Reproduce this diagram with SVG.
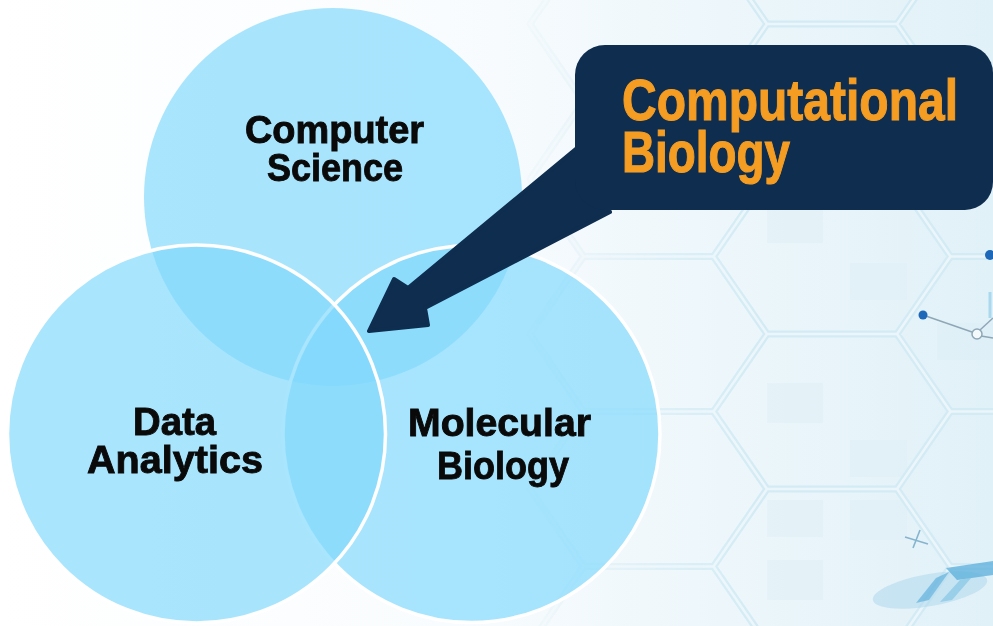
<svg xmlns="http://www.w3.org/2000/svg" width="993" height="626" viewBox="0 0 993 626">
<style>
.lbl{font-family:"Liberation Sans Narrow","Liberation Sans",Arial,sans-serif;font-weight:bold;font-size:39px;fill:#0a0a0a;stroke:#0a0a0a;stroke-width:0.9}
.call{font-family:"Liberation Sans Narrow","Liberation Sans",Arial,sans-serif;font-weight:bold;font-size:58px;fill:#f59d23;stroke:#f59d23;stroke-width:1.1}
.disc{fill:rgb(128,217,252);fill-opacity:0.68}
.ring{stroke:#ffffff;stroke-width:3.5}
.navy{fill:#0e2d4f}
.hexo{fill:none;stroke:#d3ebf4;stroke-width:7;stroke-linejoin:round}
.hexi{fill:none;stroke:#ecf6fa;stroke-width:2.5;stroke-linejoin:round}
.sq{fill:#dcedf5;opacity:0.4}
</style>
<defs>
<linearGradient id="bg" x1="0" y1="0" x2="993" y2="0" gradientUnits="userSpaceOnUse">
<stop offset="0" stop-color="#ffffff"/>
<stop offset="0.45" stop-color="#f9fcfe"/>
<stop offset="1" stop-color="#e1f1f8"/>
</linearGradient>
<linearGradient id="fade" x1="500" y1="0" x2="760" y2="0" gradientUnits="userSpaceOnUse">
<stop offset="0" stop-color="#000"/>
<stop offset="1" stop-color="#fff"/>
</linearGradient>
<mask id="hexmask" maskUnits="userSpaceOnUse" x="0" y="0" width="993" height="626">
<rect x="0" y="0" width="993" height="626" fill="url(#fade)"/>
</mask>
<path id="hexes" d="
M530,24 L583.5,-53.5 L713.5,-53.5 L767,24 L713.5,101.5 L583.5,101.5 Z
M530,179 L583.5,101.5 L713.5,101.5 L767,179 L713.5,256.5 L583.5,256.5 Z
M530,334 L583.5,256.5 L713.5,256.5 L767,334 L713.5,411.5 L583.5,411.5 Z
M530,489 L583.5,411.5 L713.5,411.5 L767,489 L713.5,566.5 L583.5,566.5 Z
M530,644 L583.5,566.5 L713.5,566.5 L767,644 Z
M713.5,101.5 L767,24 L897,24 L950.5,101.5 L897,179 L767,179 Z
M713.5,256.5 L767,179 L897,179 L950.5,256.5 L897,334 L767,334 Z
M713.5,411.5 L767,334 L897,334 L950.5,411.5 L897,489 L767,489 Z
M713.5,566.5 L767,489 L897,489 L950.5,566.5 L897,644 L767,644 Z
M897,24 L950.5,-53.5 L1080.5,-53.5 L1134,24 L1080.5,101.5 L950.5,101.5 Z
M897,179 L950.5,101.5 L1080.5,101.5 L1134,179 L1080.5,256.5 L950.5,256.5 Z
M897,334 L950.5,256.5 L1080.5,256.5 L1134,334 L1080.5,411.5 L950.5,411.5 Z
M897,489 L950.5,411.5 L1080.5,411.5 L1134,489 L1080.5,566.5 L950.5,566.5 Z
M897,644 L950.5,566.5 L1080.5,566.5 L1134,644 Z"/>
</defs>

<rect id="background" x="0" y="0" width="993" height="626" fill="url(#bg)"/>

<g id="pattern" mask="url(#hexmask)">
<rect class="sq" x="767" y="210" width="56" height="33"/>
<rect class="sq" x="850" y="263" width="57" height="37"/>
<rect class="sq" x="767" y="383" width="56" height="40"/>
<rect class="sq" x="850" y="440" width="57" height="37"/>
<rect class="sq" x="767" y="500" width="56" height="37"/>
<rect class="sq" x="850" y="500" width="57" height="40"/>
<rect class="sq" x="767" y="560" width="56" height="40"/>
<rect class="sq" x="937" y="323" width="56" height="37"/>
<use href="#hexes" class="hexo"/>
<use href="#hexes" class="hexi"/>
</g>

<g id="decor">
<line x1="923" y1="315" x2="972" y2="332" stroke="#8ea7b6" stroke-width="1.5"/>
<line x1="981" y1="336" x2="993" y2="338" stroke="#8ea7b6" stroke-width="1.5"/>
<line x1="980" y1="330" x2="993" y2="318" stroke="#8ea7b6" stroke-width="1.5"/>
<line x1="990" y1="292" x2="990" y2="318" stroke="#a9d8ef" stroke-width="3"/>
<circle cx="977" cy="334" r="5" fill="#f4fafc" stroke="#8ea7b6" stroke-width="1.5"/>
<circle cx="923" cy="315" r="4.5" fill="#1d68b8"/>
<circle cx="990" cy="255" r="5" fill="#1d68b8"/>
<line x1="905" y1="537" x2="928" y2="544" stroke="#86b4cf" stroke-width="1.6"/>
<line x1="920" y1="530" x2="913" y2="548" stroke="#86b4cf" stroke-width="1.6"/>
<ellipse cx="930" cy="590" rx="58" ry="16" transform="rotate(-10 930 590)" fill="#a9d5ec" opacity="0.5"/>
<polygon points="946,568 993,561 993,575 957,580" fill="#5aaddc" opacity="0.75"/>
<polygon points="936,578 949,572 929,600 916,603" fill="#5aaddc" opacity="0.65"/>
<polygon points="960,580 972,577 952,600 940,602" fill="#7cc0e3" opacity="0.6"/>
</g>

<g id="node-computer-science">
<circle class="disc" cx="333" cy="197" r="189"/>
<text class="lbl" x="245" y="143" textLength="179" lengthAdjust="spacingAndGlyphs">Computer</text>
<text class="lbl" x="267" y="181" textLength="136" lengthAdjust="spacingAndGlyphs">Science</text>
</g>

<g id="node-molecular-biology">
<circle class="disc ring" cx="471.5" cy="434" r="188.5"/>
<text class="lbl" x="408" y="436" textLength="183" lengthAdjust="spacingAndGlyphs">Molecular</text>
<text class="lbl" x="437" y="479" textLength="132" lengthAdjust="spacingAndGlyphs">Biology</text>
</g>

<g id="node-data-analytics">
<circle class="disc ring" cx="196.5" cy="434" r="189"/>
<text class="lbl" x="133" y="435" textLength="83" lengthAdjust="spacingAndGlyphs">Data</text>
<text class="lbl" x="87" y="473" textLength="176" lengthAdjust="spacingAndGlyphs">Analytics</text>
</g>

<g id="connectors">
<path class="navy" stroke="#0e2d4f" stroke-width="4" stroke-linejoin="round" d="M590,150 L577,148 L408,288 L394,279 L369,331 L428,325 L425,308 L610,212 L600,190 Z"/>
</g>

<g id="node-computational-biology">
<path class="navy" d="M605,45 H965 A28,28 0 0 1 993,73 V182 A28,28 0 0 1 965,210 H605 A30,30 0 0 1 575,180 V75 A30,30 0 0 1 605,45 Z"/>
<text class="call" x="622" y="120" textLength="336" lengthAdjust="spacingAndGlyphs">Computational</text>
<text class="call" x="622" y="172" textLength="168" lengthAdjust="spacingAndGlyphs">Biology</text>
</g>
</svg>
